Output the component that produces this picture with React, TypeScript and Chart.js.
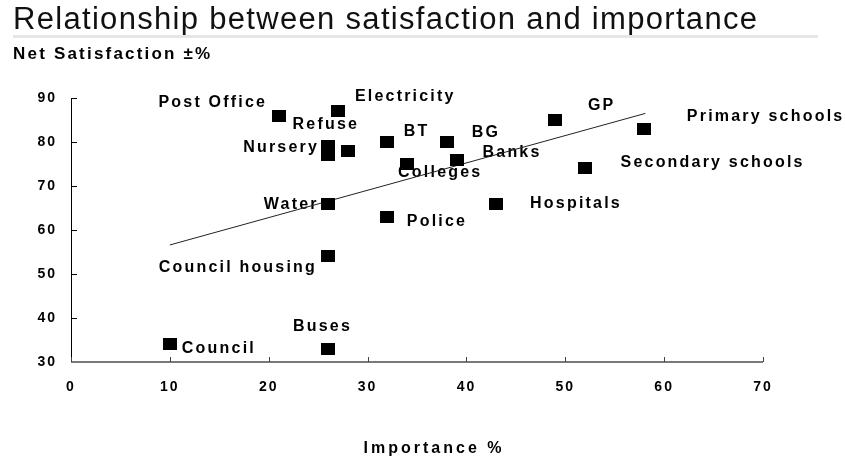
import React, { useEffect, useRef } from "react";
import { Chart, registerables } from "chart.js";

Chart.register(...registerables);

// ---------- data ----------
const services = [
  "Post Office",
  "Electricity",
  "Refuse",
  "Nursery",
  "",
  "BT",
  "BG",
  "Banks",
  "Colleges",
  "GP",
  "Primary schools",
  "Secondary schools",
  "Hospitals",
  "Police",
  "Water",
  "Council housing",
  "Buses",
  "Council",
];
const importance = [21, 27, 28, 26, 26, 32, 38, 39, 34, 49, 58, 52, 43, 32, 26, 26, 26, 10];
const satisfaction = [86, 87, 78, 79, 77, 80, 80, 76, 75, 85, 83, 74, 66, 63, 66, 54, 33, 34];

const trendImportance = [10, 58.1];
const trendSatisfaction = [56.6, 86.5];

const xAxisRange = [0, 70];
const yAxisRange = [30, 90];
const tickStep = 10;

const chartTitle = "Relationship between satisfaction and importance";
const yAxisTitle = "Net Satisfaction \u00B1%";
const xAxisTitle = "Importance %";

// ---------- label placement (px offsets from marker centre) ----------
const labelPlacement: [number, number, CanvasTextAlign][] = [
  [-11.5, -13, "right"], // Post Office
  [17, -14.5, "left"], // Electricity
  [-22, -26, "center"], // Refuse
  [-9, 1.6, "right"], // Nursery
  [0, 0, "left"], // (unlabelled)
  [16.5, -10, "left"], // BT
  [25, -9, "left"], // BG
  [26, -7, "left"], // Banks
  [-9, 9, "left"], // Colleges
  [32.5, -14, "left"], // GP
  [42.5, -12, "left"], // Primary schools
  [35.5, -6, "left"], // Secondary schools
  [34, 0, "left"], // Hospitals
  [19.5, 5, "left"], // Police
  [-9.3, 0.7, "right"], // Water
  [-11, 11.6, "right"], // Council housing
  [-5.5, -22, "center"], // Buses
  [12, 4.5, "left"], // Council
];

const FONT = "'Liberation Sans', Arial, sans-serif";

const decorPlugin = {
  id: "decor",
  beforeDraw(chart: any) {
    chart.ctx.letterSpacing = "2px";
  },
  beforeDatasetsDraw(chart: any) {
    const ctx = chart.ctx as CanvasRenderingContext2D;
    const xs = chart.scales.x;
    const ys = chart.scales.y;
    ctx.save();
    // axes
    const left = xs.getPixelForValue(xAxisRange[0]);
    const right = xs.getPixelForValue(xAxisRange[1]);
    const top = ys.getPixelForValue(yAxisRange[1]);
    const bottom = ys.getPixelForValue(yAxisRange[0]);
    ctx.strokeStyle = "#000";
    ctx.lineWidth = 1;
    ctx.beginPath();
    ctx.moveTo(Math.round(left) + 0.5, top);
    ctx.lineTo(Math.round(left) + 0.5, bottom);
    ys.ticks.forEach((t: any) => {
      const y = Math.round(ys.getPixelForValue(t.value)) + 0.5;
      ctx.moveTo(left, y);
      ctx.lineTo(left + 6, y);
    });
    ctx.stroke();

    ctx.strokeStyle = "#7a7a7a";
    ctx.lineWidth = 2;
    ctx.beginPath();
    ctx.moveTo(left, bottom);
    ctx.lineTo(right, bottom);
    ctx.stroke();
    ctx.lineWidth = 1;
    ctx.strokeStyle = "#444";
    ctx.beginPath();
    xs.ticks.forEach((t: any) => {
      const x = Math.round(xs.getPixelForValue(t.value)) + 0.5;
      ctx.moveTo(x, bottom);
      ctx.lineTo(x, bottom - 5);
    });
    ctx.stroke();

    // point labels
    const meta = chart.getDatasetMeta(0);
    ctx.fillStyle = "#000";
    ctx.font = `bold 16px ${FONT}`;
    (ctx as any).letterSpacing = "2.2px";
    ctx.textBaseline = "middle";
    meta.data.forEach((pt: any, i: number) => {
      const name = services[i];
      if (!name) return;
      const [dx, dy, align] = labelPlacement[i];
      ctx.textAlign = align;
      ctx.fillText(name, pt.x + dx, pt.y + dy);
    });
    ctx.restore();
  },
  afterDraw(chart: any) {
    const ctx = chart.ctx as CanvasRenderingContext2D;
    ctx.save();
    // title
    ctx.fillStyle = "#111";
    ctx.font = `31px ${FONT}`;
    (ctx as any).letterSpacing = "0px";
    const w = ctx.measureText(chartTitle).width;
    const sp = (744 - w) / (chartTitle.length - 1);
    (ctx as any).letterSpacing = `${sp}px`;
    ctx.textAlign = "left";
    ctx.textBaseline = "alphabetic";
    ctx.fillText(chartTitle, 13, 29);
    ctx.fillStyle = "#e6e6e6";
    ctx.fillRect(13, 35, 805, 3);

    // y axis title
    ctx.fillStyle = "#000";
    ctx.font = `bold 17px ${FONT}`;
    (ctx as any).letterSpacing = "2.2px";
    ctx.textBaseline = "middle";
    ctx.fillText(yAxisTitle, 13, 54);

    // x axis title
    ctx.font = `bold 16px ${FONT}`;
    (ctx as any).letterSpacing = "3px";
    ctx.textAlign = "center";
    ctx.fillText(xAxisTitle, 434, 449);
    ctx.restore();
    (ctx as any).letterSpacing = "0px";
  },
};

export default function App() {
  const ref = useRef<HTMLCanvasElement | null>(null);

  useEffect(() => {
    if (!ref.current) return;
    const marker = document.createElement("canvas");
    marker.width = 14;
    marker.height = 12;
    const mctx = marker.getContext("2d")!;
    mctx.fillStyle = "#000";
    mctx.fillRect(0, 0, 14, 12);

    const chart = new Chart(ref.current, {
      type: "scatter",
      data: {
        datasets: [
          {
            label: "Services",
            data: importance.map((x, i) => ({ x, y: satisfaction[i] })),
            pointStyle: marker as any,
            pointRadius: 7,
            backgroundColor: "#000",
            borderColor: "#000",
          },
          {
            type: "line" as any,
            label: "Trend",
            data: trendImportance.map((x, i) => ({ x, y: trendSatisfaction[i] })),
            borderColor: "#222",
            borderWidth: 1,
            pointRadius: 0,
            fill: false,
            tension: 0,
          },
        ],
      },
      options: {
        animation: false,
        responsive: false,
        devicePixelRatio: 1,
        layout: { padding: { top: 98, right: 82, bottom: 0, left: 0 } },
        plugins: {
          legend: { display: false },
          tooltip: { enabled: false },
          title: { display: false },
        },
        scales: {
          x: {
            type: "linear",
            min: xAxisRange[0],
            max: xAxisRange[1],
            grid: { display: false },
            border: { display: false },
            ticks: {
              stepSize: tickStep,
              color: "#000",
              font: { family: FONT, size: 14, weight: "bold" },
              padding: 9,
            },
            afterFit: (s: any) => {
              s.height = 99;
            },
          },
          y: {
            type: "linear",
            min: yAxisRange[0],
            max: yAxisRange[1],
            grid: { display: false },
            border: { display: false },
            ticks: {
              stepSize: tickStep,
              color: "#000",
              font: { family: FONT, size: 14, weight: "bold" },
              padding: 6,
            },
            afterFit: (s: any) => {
              s.width = 71;
            },
          },
        },
      },
      plugins: [decorPlugin],
    });
    return () => chart.destroy();
  }, []);

  return (
    <div style={{ position: "fixed", left: 0, top: 0, width: 845, height: 461, background: "#fff" }}>
      <canvas ref={ref} width={845} height={461} style={{ width: 845, height: 461, display: "block" }} />
    </div>
  );
}
